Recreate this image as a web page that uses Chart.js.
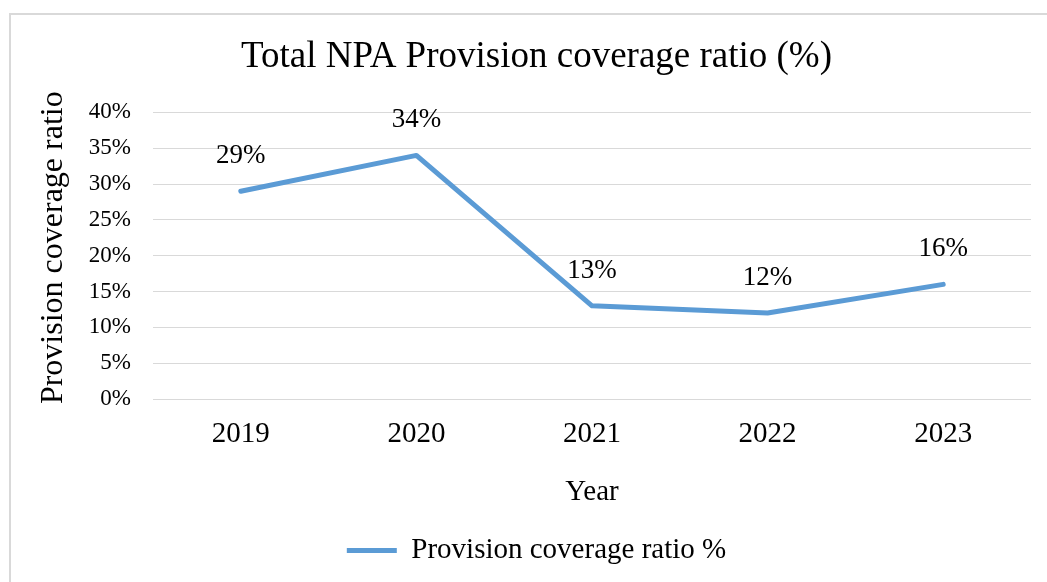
<!DOCTYPE html>
<html>
<head>
<meta charset="utf-8">
<script src="https://cdn.jsdelivr.net/npm/chart.js@4/dist/chart.umd.min.js"></script>
<style>
  html, body { margin: 0; padding: 0; background: #fff; }
  #wrap { position: relative; width: 1047px; height: 582px; }
</style>
</head>
<body>
<div id="wrap"><canvas id="c" width="1047" height="582"></canvas></div>
<script>
const years = ['2019', '2020', '2021', '2022', '2023'];
const coverageRatio = [29, 34, 13, 12, 16];
const seriesName = 'Provision coverage ratio %';
const chartTitle = 'Total NPA Provision coverage ratio (%)';
const yAxisTitle = '  Provision coverage ratio';
const xAxisTitle = 'Year';

const SERIF = "'Liberation Serif', 'Times New Roman', serif";
const LINE_BLUE = '#5b9bd5';
const GRID = '#d9d9d9';

// light frame along the top and left of the chart
const framePlugin = {
  id: 'frame',
  beforeDraw(chart) {
    const ctx = chart.ctx;
    ctx.save();
    ctx.strokeStyle = GRID;
    ctx.lineWidth = 2;
    ctx.beginPath();
    ctx.moveTo(10, 600);
    ctx.lineTo(10, 14);
    ctx.lineTo(1047, 14);
    ctx.stroke();
    ctx.restore();
  }
};

// value labels above each point
const valueLabels = {
  id: 'valueLabels',
  afterDatasetsDraw(chart) {
    const ctx = chart.ctx;
    const meta = chart.getDatasetMeta(0);
    const data = chart.data.datasets[0].data;
    ctx.save();
    ctx.font = '27px ' + SERIF;
    ctx.fillStyle = '#000';
    ctx.textAlign = 'center';
    ctx.textBaseline = 'middle';
    meta.data.forEach((pt, i) => {
      ctx.fillText(data[i] + '%', pt.x, pt.y - 35);
    });
    ctx.restore();
  }
};

new Chart(document.getElementById('c'), {
  type: 'line',
  data: {
    labels: years,
    datasets: [{
      label: seriesName,
      data: coverageRatio,
      borderColor: LINE_BLUE,
      backgroundColor: LINE_BLUE,
      borderWidth: 5,
      borderCapStyle: 'round',
      borderJoinStyle: 'round',
      pointRadius: 0,
      pointHoverRadius: 0,
      tension: 0,
      fill: false
    }]
  },
  options: {
    responsive: false,
    animation: false,
    events: [],
    layout: { padding: { top: 20, right: 16, bottom: 7, left: 42 } },
    plugins: {
      title: {
        display: true,
        text: chartTitle,
        color: '#000',
        font: { family: SERIF, size: 37, weight: 'normal' },
        padding: { top: 15, bottom: 33 }
      },
      legend: {
        display: true,
        position: 'bottom',
        labels: {
          color: '#000',
          font: { family: SERIF, size: 29 },
          usePointStyle: true,
          pointStyle: 'line',
          pointStyleWidth: 50,
          boxHeight: 29
        }
      },
      tooltip: { enabled: false }
    },
    scales: {
      x: {
        offset: true,
        grid: { display: false, drawTicks: false },
        border: { display: false },
        ticks: {
          color: '#000',
          font: { family: SERIF, size: 29 },
          padding: 18,
          maxRotation: 0
        },
        title: {
          display: true,
          text: xAxisTitle,
          color: '#000',
          font: { family: SERIF, size: 29 },
          padding: { top: 0, bottom: 16 }
        },
        afterFit(scale) { scale.height = 127; }
      },
      y: {
        min: 0,
        max: 40,
        grid: { color: GRID, lineWidth: 1, drawTicks: false },
        border: { display: false },
        ticks: {
          stepSize: 5,
          color: '#000',
          font: { family: SERIF, size: 23 },
          padding: 22,
          callback: v => v + '%'
        },
        title: {
          display: true,
          text: yAxisTitle,
          color: '#000',
          font: { family: SERIF, size: 32, lineHeight: 0.75 },
          padding: { top: 0, bottom: 0 }
        },
        afterFit(scale) { scale.width = 111; }
      }
    }
  },
  plugins: [framePlugin, valueLabels]
});
</script>
</body>
</html>
